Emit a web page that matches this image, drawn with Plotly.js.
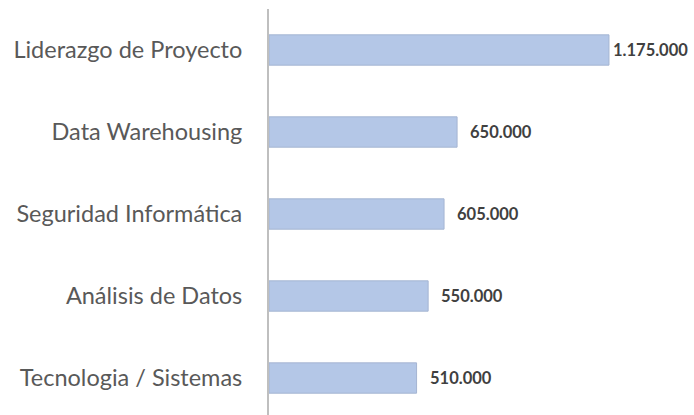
<!DOCTYPE html>
<html>
<head>
<meta charset="utf-8">
<script src="https://cdn.plot.ly/plotly-3.0.1.min.js"></script>
<style>html,body{margin:0;padding:0;background:#fff;}#chart{width:694px;height:415px;}</style>
</head>
<body>
<div id="chart"></div>
<script>
const categories = ["Liderazgo de Proyecto", "Data Warehousing", "Seguridad Informática", "Análisis de Datos", "Tecnologia / Sistemas"];
const values = [1175000, 650000, 605000, 550000, 510000];
const valueLabels = ["1.175.000", "650.000", "605.000", "550.000", "510.000"];
// styling only: gap between bar end and its label (px)
const labelGap = [2, 11, 11, 11, 11];

const trace = {
  type: "bar",
  orientation: "h",
  y: categories,
  x: values,
  marker: {color: "#B4C7E7", line: {color: "#A5B5D2", width: 1}},
  hoverinfo: "none"
};

const annotations = categories.map((c, i) => ({
  x: values[i], y: c, xref: "x", yref: "y",
  text: valueLabels[i], showarrow: false,
  xanchor: "left", yanchor: "middle", xshift: labelGap[i],
  font: {family: "Lato, sans-serif", size: 16.5, color: "#404040", weight: "bold"}
}));

const layout = {
  width: 694, height: 415,
  margin: {l: 269, r: 4, t: 9, b: 0},
  paper_bgcolor: "#fff", plot_bgcolor: "#fff",
  bargap: 0.63,
  showlegend: false,
  annotations: annotations,
  xaxis: {range: [0, 1455000], showgrid: false, zeroline: false, showticklabels: false, showline: false, fixedrange: true},
  yaxis: {
    range: [4.451, -0.5], showgrid: false, zeroline: false,
    showline: true, linecolor: "#BFBFBF", linewidth: 2,
    ticks: "", ticklabelstandoff: 20,
    tickfont: {family: "Lato, sans-serif", size: 23.5, color: "#595959"}
  }
};

Plotly.newPlot("chart", [trace], layout, {displayModeBar: false, staticPlot: true});
</script>
</body>
</html>
